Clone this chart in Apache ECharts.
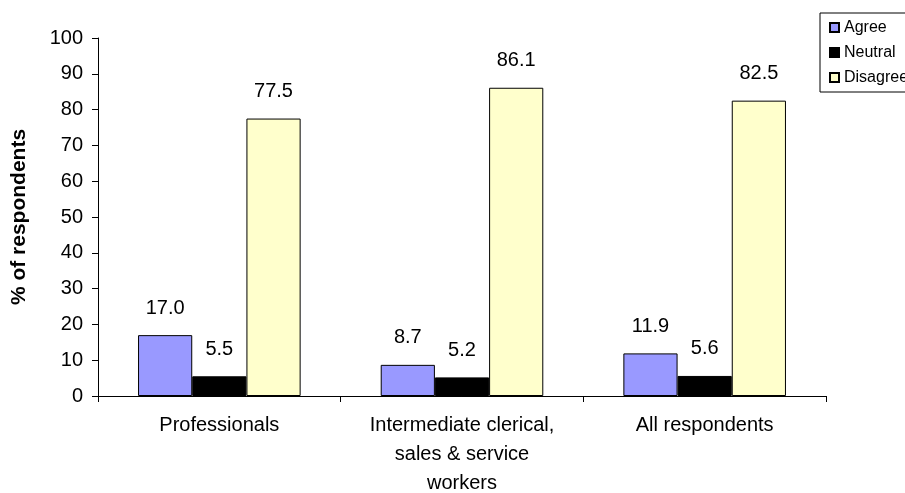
<!DOCTYPE html>
<html>
<head>
<meta charset="utf-8">
<script src="https://cdn.jsdelivr.net/npm/echarts@6/dist/echarts.min.js"></script>
<style>
  html, body { margin: 0; padding: 0; background: #fff; }
  #chart { width: 905px; height: 493px; }
</style>
</head>
<body>
<div id="chart"></div>
<script>
// Survey responses by occupational group (% of respondents)
const categories = ['Professionals', 'Intermediate clerical,\nsales & service\nworkers', 'All respondents'];
const agree = [17.0, 8.7, 11.9];
const neutral = [5.5, 5.2, 5.6];
const disagree = [77.5, 86.1, 82.5];
const yTicks = { min: 0, max: 100, interval: 10 };

const FONT = '"Liberation Sans", Arial, sans-serif';

function barSeries(name, data, color) {
  return {
    name: name,
    type: 'bar',
    data: data,
    barGap: '0%',
    barCategoryGap: '33%',
    itemStyle: { color: color, borderColor: '#000', borderWidth: 1 },
    label: {
      show: true,
      position: 'top',
      distance: 17,
      fontFamily: FONT,
      fontSize: 20,
      color: '#000',
      formatter: p => p.value.toFixed(1)
    }
  };
}

const chart = echarts.init(document.getElementById('chart'));
chart.setOption({
  animation: false,
  backgroundColor: '#fff',
  grid: { left: 98, right: 79, top: 38, bottom: 97, containLabel: false, outerBoundsMode: 'none' },
  legend: {
    orient: 'vertical',
    left: 820,
    top: 13,
    itemWidth: 9,
    itemHeight: 9,
    itemGap: 8,
    padding: [6, 40, 6, 9],
    borderColor: '#000',
    borderWidth: 1,
    icon: 'rect',
    textStyle: { fontFamily: FONT, fontSize: 16, color: '#000', lineHeight: 17 },
    data: ['Agree', 'Neutral', 'Disagree']
  },
  xAxis: {
    type: 'category',
    data: categories,
    axisLine: { lineStyle: { color: '#000', width: 1 } },
    axisTick: { show: true, alignWithLabel: false, length: 6, lineStyle: { color: '#000' } },
    axisLabel: {
      interval: 0,
      margin: 15,
      fontFamily: FONT,
      fontSize: 20,
      color: '#000',
      lineHeight: 29,
      align: 'center'
    }
  },
  yAxis: {
    type: 'value',
    min: yTicks.min,
    max: yTicks.max,
    interval: yTicks.interval,
    name: '% of respondents',
    nameLocation: 'middle',
    nameGap: 68,
    nameTextStyle: { fontFamily: FONT, fontSize: 21, fontWeight: 'bold', color: '#000' },
    axisLine: { show: true, lineStyle: { color: '#000', width: 1 } },
    axisTick: { show: true, length: 6, lineStyle: { color: '#000' } },
    splitLine: { show: false },
    axisLabel: { fontFamily: FONT, fontSize: 20, color: '#000', margin: 15 }
  },
  series: [
    barSeries('Agree', agree, '#9999FF'),
    barSeries('Neutral', neutral, '#000000'),
    barSeries('Disagree', disagree, '#FFFFCC')
  ]
});
</script>
</body>
</html>
